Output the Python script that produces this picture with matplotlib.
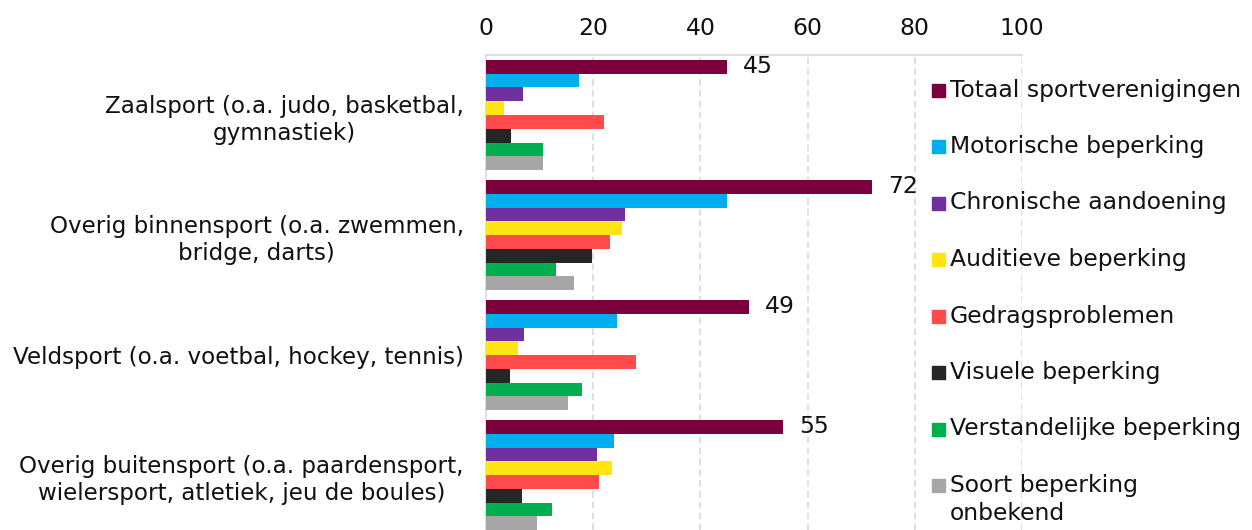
import matplotlib
matplotlib.use("Agg")
import matplotlib.pyplot as plt
from matplotlib.patches import Rectangle
import numpy as np

# categories (top to bottom)
categories = [
    "Zaalsport (o.a. judo, basketbal,\ngymnastiek)",
    "Overig binnensport (o.a. zwemmen,\nbridge, darts)",
    "Veldsport (o.a. voetbal, hockey, tennis)",
    "Overig buitensport (o.a. paardensport,\nwielersport, atletiek, jeu de boules)",
]

series_names = [
    "Totaal sportverenigingen",
    "Motorische beperking",
    "Chronische aandoening",
    "Auditieve beperking",
    "Gedragsproblemen",
    "Visuele beperking",
    "Verstandelijke beperking",
    "Soort beperking\nonbekend",
]

series_colors = ["#7a003c", "#00aeef", "#7030a0", "#ffe512",
                 "#ff4b4b", "#262626", "#00b050", "#a6a6a6"]

# values per series, one per category
totaal = [45, 72, 49, 55.5]
motorisch = [17.3, 45.0, 24.5, 23.9]
chronisch = [6.9, 26.0, 7.1, 20.7]
auditief = [3.3, 25.4, 6.0, 23.6]
gedrag = [22.1, 23.2, 28.0, 21.1]
visueel = [4.6, 19.7, 4.4, 6.7]
verstand = [10.7, 13.1, 18.0, 12.4]
onbekend = [10.7, 16.5, 15.3, 9.5]
series_values = [totaal, motorisch, chronisch, auditief,
                 gedrag, visueel, verstand, onbekend]

total_labels = ["45", "72", "49", "55"]

x_ticks = [0, 20, 40, 60, 80, 100]

FS = 16.9
FS_CAT = 16.6
W, H = 1252, 530

fig = plt.figure(figsize=(W / 100, H / 100), dpi=100)
ax = fig.add_axes([486 / W, 0, (1022 - 486) / W, 1 - 55 / H])

n = len(series_values)
bh = 0.917 / n
ypos = np.arange(len(categories))
for i, (vals, col) in enumerate(zip(series_values, series_colors)):
    y = ypos - 0.4585 + bh * (i + 0.5)
    ax.barh(y, vals, height=bh, color=col, linewidth=0, zorder=3)
    if i == 0:
        for yy, v, lab in zip(y, vals, total_labels):
            ax.text(v + 3.0, yy, lab, va="center", ha="left", fontsize=FS,
                    color="#111111")

ax.set_xlim(0, 100)
ax.set_ylim(3.458, -0.5)
ax.set_xticks(x_ticks)
ax.set_xticklabels([str(t) for t in x_ticks])
ax.xaxis.tick_top()
ax.set_yticks(ypos)
ax.set_yticklabels(categories)
for lab in ax.get_yticklabels():
    lab.set_multialignment("center")
    lab.set_linespacing(1.25)
ax.tick_params(axis="x", length=0, pad=11, labelsize=FS, labelcolor="#111111")
ax.tick_params(axis="y", length=0, pad=16, labelsize=FS_CAT, labelcolor="#111111")

for xv in x_ticks[1:]:
    ax.axvline(xv, color="#d9d9d9", linestyle=(0, (4, 2.5)), linewidth=1.2, zorder=1)

for s in ["right", "bottom"]:
    ax.spines[s].set_visible(False)
for s in ["top", "left"]:
    ax.spines[s].set_color("#d9d9d9")
    ax.spines[s].set_linewidth(1.2)

# legend drawn by hand to match the spacing
for i, (name, col) in enumerate(zip(series_names, series_colors)):
    yc = 90 + i * 56.5
    if "\n" in name:
        ty = yc + 14
    else:
        ty = yc
    fig.patches.append(Rectangle((932 / W, 1 - (yc + 6.5) / H), 13 / W, 13 / H,
                                 transform=fig.transFigure, color=col,
                                 figure=fig))
    fig.text(950 / W, 1 - ty / H, name, ha="left", va="center",
             fontsize=FS, color="#111111", linespacing=1.3)

fig.savefig("out.png", dpi=100)
